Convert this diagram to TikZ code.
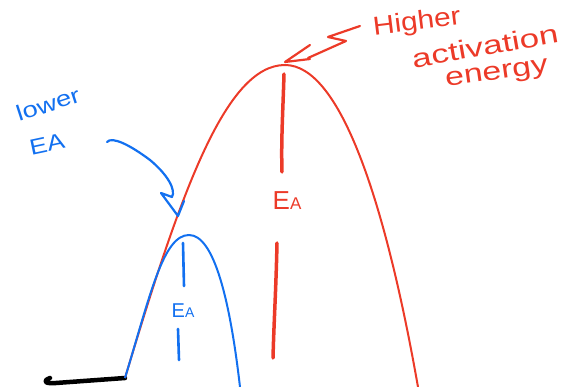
\documentclass[tikz,border=0pt]{standalone}
\usepackage{fontspec}
\setmainfont{Liberation Sans}
\definecolor{hred}{RGB}{236,58,40}
\definecolor{hblue}{RGB}{18,112,240}
\begin{document}
\begin{tikzpicture}[x=1pt,y=-1pt,
  curve/.style={line width=2pt},
  pen/.style={line width=3.5pt,line cap=round,line join=round},
  thin pen/.style={line width=2.6pt,line cap=round,line join=round},
  hand/.style={inner sep=0pt,font=\fontsize{26}{26}\selectfont},
  ealabel/.style={inner sep=0pt}]
\useasboundingbox (0,0) rectangle (574,387);
% base line
\coordinate (start) at (125,378);
\coordinate (hook) at (50,378);
\draw[pen,line width=4.5pt,black] (hook) .. controls (42,381) and (45,384) .. (56,383) -- (start);
% red curve
\coordinate (rpeak) at (285,65);
\coordinate (rend) at (418,387);
\draw[curve,hred] (start) .. controls (180,195) and (225,65) .. (rpeak)
  .. controls (340,65) and (385,200) .. (rend);
% blue curve
\coordinate (bpeak) at (189,235);
\coordinate (bend) at (240,387);
\draw[curve,hblue] (start) .. controls (150,296) and (163,235) .. (bpeak)
  .. controls (214,235) and (230,300) .. (bend);
% red Ea
\node[ealabel,text=hred] (rea) at (287,201) {\fontsize{26}{26}\selectfont E\fontsize{17}{17}\selectfont A};
\coordinate (ra1) at (284,74);
\coordinate (ra2) at (282,172);
\coordinate (ra3) at (277,243);
\coordinate (ra4) at (273,358);
\draw[pen,hred] (ra1) .. controls (283,110) and (281,140) .. (ra2);
\draw[pen,hred] (ra3) .. controls (276,290) and (274,320) .. (ra4);
% blue Ea
\node[ealabel,text=hblue] (bea) at (183,311) {\fontsize{20}{20}\selectfont E\fontsize{14}{14}\selectfont A};
\coordinate (ba1) at (183,243);
\coordinate (ba2) at (184,286);
\coordinate (ba3) at (178,329);
\coordinate (ba4) at (179,360);
\draw[thin pen,hblue] (ba1) -- (ba2);
\draw[thin pen,hblue] (ba3) -- (ba4);
% blue annotation
\node[hand,text=hblue,rotate=18,xscale=1.25,font=\fontsize{22}{22}\selectfont] (lower) at (48,104) {lower};
\node[hand,text=hblue,rotate=12,xscale=1.2,font=\fontsize{22}{22}\selectfont] (lowerEA) at (47,144) {EA};
\coordinate (barrow) at (107,142);
\coordinate (btip) at (178,216);
\draw[thin pen,hblue,line width=2.2pt] (barrow) .. controls (112,136) and (130,145) .. (150,160)
  .. controls (168,175) and (176,190) .. (172,197) -- (161,193) -- (btip) -- (184,201);
% red annotation
\coordinate (rtip) at (285,62);
\draw[thin pen,hred,line width=2.2pt] (310,45) -- (rtip) -- (310,59);
\draw[thin pen,hred,line width=2.2pt] (308,58) -- (346,41) -- (328,37) -- (360,26);
\node[hand,text=hred,rotate=7,xscale=1.15] (higher) at (417,23) {Higher};
\node[hand,text=hred,rotate=10,xscale=1.35] (activation) at (485,46) {activation};
\node[hand,text=hred,rotate=8,xscale=1.3] (energy) at (497,75) {energy};
\end{tikzpicture}
\end{document}
